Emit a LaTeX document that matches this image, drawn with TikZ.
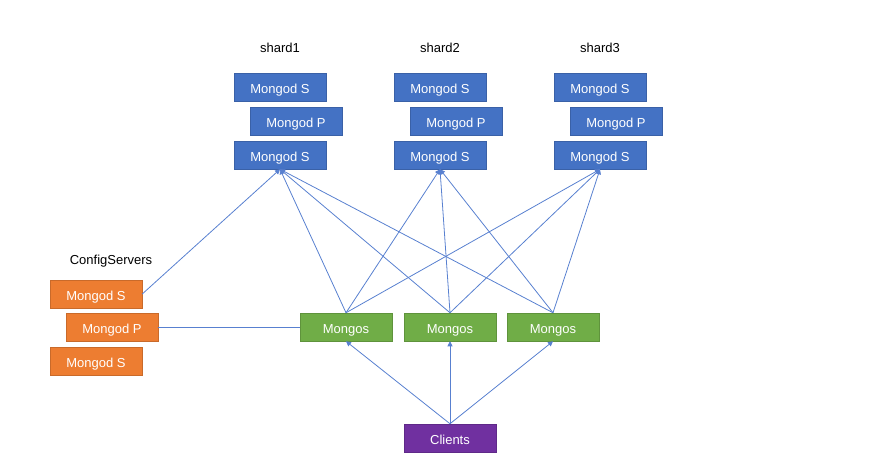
\documentclass[tikz,border=0pt]{standalone}
\usepackage{fontspec}
\setmainfont{Liberation Sans}
\usetikzlibrary{arrows.meta, positioning}
\definecolor{shardblue}{RGB}{68,114,196}
\definecolor{configorange}{RGB}{237,125,49}
\definecolor{mongosgreen}{RGB}{112,173,71}
\definecolor{clientpurple}{RGB}{112,48,160}
\definecolor{linkblue}{RGB}{88,128,208}

\begin{document}
\begin{tikzpicture}[x=1pt, y=-1pt, font=\fontsize{13}{15}\selectfont,
        mbox/.style={draw=#1!85!black, fill=#1, line width=0.5pt, text=white,
                     minimum width=92pt, minimum height=28pt, inner sep=0pt,
                     text height=12.5pt, text depth=0pt},
        link/.style={draw=linkblue, line width=0.8pt},
        tip/.style={link, -{Triangle[length=5pt, width=5pt]}}]
        \useasboundingbox (0,0) rectangle (871,469);

        % shards
        \foreach \i/\cx in {1/280, 2/440, 3/600} {
            \node (shard\i) at (\cx,48) {shard\i};
            \node[mbox=shardblue] (sh\i top) at (\cx,87) {Mongod S};
            \node[mbox=shardblue] (sh\i mid) at (\cx+16,121) {Mongod P};
            \node[mbox=shardblue] (sh\i bot) at (\cx,155) {Mongod S};
        }

        % config servers
        \node (config) at (111,261) {ConfigServers};
        \node[mbox=configorange] (cfgtop) at (96,294) {Mongod S};
        \node[mbox=configorange] (cfgmid) at (112,327) {Mongod P};
        \node[mbox=configorange] (cfgbot) at (96,361) {Mongod S};

        % routers and clients
        \foreach \j/\cx in {1/346, 2/450, 3/553}
            \node[mbox=mongosgreen] (mongos\j) at (\cx,327) {Mongos};
        \node[mbox=clientpurple] (clients) at (450,438) {Clients};

        % links
        \foreach \j in {1,2,3}
            \foreach \i in {1,2,3}
                \draw[tip] (mongos\j.north) -- (sh\i bot.south);
        \draw[tip] (cfgtop.east) -- (sh1bot.south);
        \draw[link] (cfgmid.east) -- (mongos1.west);
        \foreach \j in {1,2,3}
            \draw[tip] (clients.north) -- (mongos\j.south);
    \end{tikzpicture}
\end{document}
